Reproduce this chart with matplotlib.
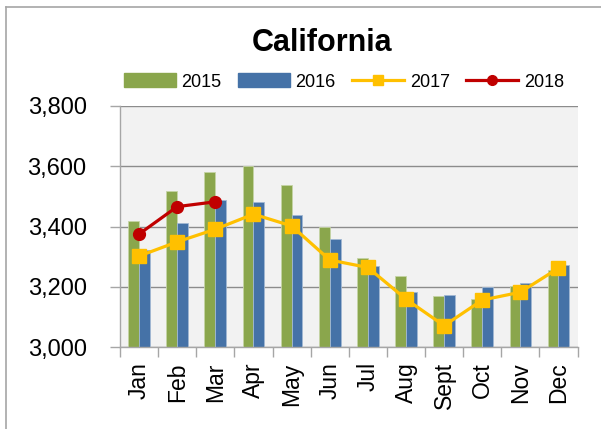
import matplotlib.pyplot as plt
import numpy as np
from matplotlib.lines import Line2D

plt.rcParams['font.family'] = ['Liberation Sans', 'DejaVu Sans']

months = ['Jan', 'Feb', 'Mar', 'Apr', 'May', 'Jun', 'Jul', 'Aug', 'Sept', 'Oct', 'Nov', 'Dec']
v2015 = [3417, 3517, 3581, 3600, 3537, 3397, 3296, 3236, 3171, 3160, 3204, 3256]
v2016 = [3322, 3412, 3489, 3480, 3439, 3359, 3269, 3182, 3173, 3199, 3213, 3271]
v2017 = [3302, 3349, 3391, 3441, 3402, 3289, 3264, 3159, 3071, 3156, 3182, 3262]
v2018 = [3375, 3466, 3482]

green = '#8AA64C'
blue = '#4572A7'
yellow = '#FFC000'
red = '#C00000'

fig = plt.figure(figsize=(6.01, 4.29), dpi=100)
ax = fig.add_axes([0.1997, 0.191, 0.7613, 0.562])
ax.set_facecolor('#F2F2F2')

x = np.arange(len(months))
w = 0.285
ax.bar(x - w / 2, v2015, w, color=green, edgecolor='#C5D4A5', linewidth=0.6, zorder=2)
ax.bar(x + w / 2, v2016, w, color=blue, edgecolor='#A2B8D3', linewidth=0.6, zorder=2)
ax.plot(x, v2017, color=yellow, lw=2.3, marker='s', ms=9.5, zorder=3)
ax.plot(x[:len(v2018)], v2018, color=red, lw=2.3, marker='o', ms=8.5, zorder=4)

ax.set_xlim(-0.5, 11.5)
ax.set_ylim(3000, 3800)
ax.set_yticks([3000, 3200, 3400, 3600, 3800])
ax.set_yticklabels(['3,000', '3,200', '3,400', '3,600', '3,800'])
ax.grid(axis='y', color='#8C8C8C', lw=1, zorder=0)

ax.set_xticks(x)
ax.set_xticklabels(months, rotation=90)
ax.set_xticks(np.arange(-0.5, 12, 1), minor=True)
ax.tick_params(axis='x', which='major', length=0, pad=11, labelsize=16.5)
ax.tick_params(axis='x', which='minor', length=7, color='#A6A6A6', width=1)
ax.tick_params(axis='y', length=7, color='#A6A6A6', width=1, labelsize=17, pad=17)

for s in ['top', 'right']:
    ax.spines[s].set_visible(False)
for s in ['left', 'bottom']:
    ax.spines[s].set_color('#A6A6A6')
    ax.spines[s].set_linewidth(1)

fig.text(0.536, 0.9, 'California', ha='center', va='center', fontsize=22, fontweight='bold')

handles = [
    plt.Rectangle((0, 0), 1, 1, color=green),
    plt.Rectangle((0, 0), 1, 1, color=blue),
    Line2D([], [], color=yellow, lw=2.3, marker='s', ms=7),
    Line2D([], [], color=red, lw=2.3, marker='o', ms=7),
]
fig.legend(handles, ['2015', '2016', '2017', '2018'], loc='center', bbox_to_anchor=(0.572, 0.809),
           ncol=4, frameon=False, fontsize=13, handlelength=2.9, handletextpad=0.3,
           columnspacing=0.9, handleheight=0.8)

fig.add_artist(Line2D([6 / 601, 6 / 601], [0, 1 - 7 / 429], color='#A6A6A6', lw=1.2))
fig.add_artist(Line2D([6 / 601, 1], [1 - 7 / 429, 1 - 7 / 429], color='#A6A6A6', lw=1.2))

fig.savefig('out.png', dpi=100)
